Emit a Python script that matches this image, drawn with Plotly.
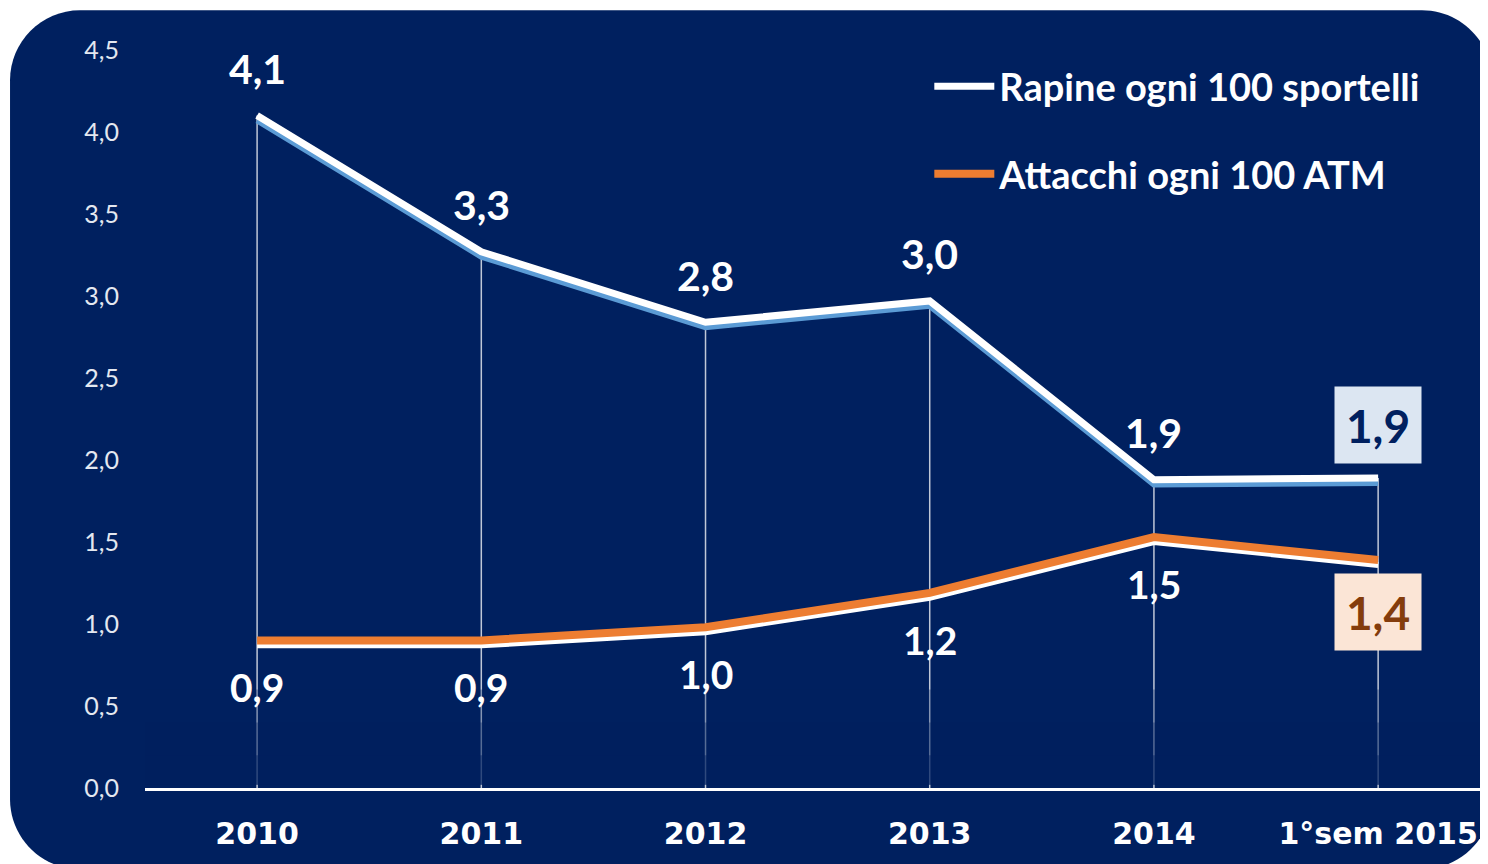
import plotly.graph_objects as go

categories = ["2010", "2011", "2012", "2013", "2014", "1°sem 2015"]
rapine = [4.10, 3.27, 2.84, 2.97, 1.88, 1.89]
attacchi = [0.90, 0.90, 0.98, 1.19, 1.53, 1.39]
y_ticks = [0, 0.5, 1.0, 1.5, 2.0, 2.5, 3.0, 3.5, 4.0, 4.5]

NAVY = "#00205f"
ORANGE = "#ed7d31"
SHADOW_BLUE = "#5b9bd5"


def label(v):
    return f"{v:.1f}".replace(".", ",")


fig = go.Figure()

# thin drop lines from each "rapine" point down to the axis
fig.add_trace(go.Scatter(
    x=categories, y=rapine, mode="markers",
    marker=dict(size=1, opacity=0),
    error_y=dict(type="data", symmetric=False, array=[0] * len(rapine),
                 arrayminus=rapine, color="rgba(255,255,255,0.75)",
                 thickness=1.5, width=0),
    showlegend=False, hoverinfo="skip",
))

# shadow lines (same data, drawn on a slightly shifted twin axis, under the main lines)
fig.add_trace(go.Scatter(
    x=categories, y=rapine, yaxis="y2", mode="lines",
    line=dict(color=SHADOW_BLUE, width=6),
    showlegend=False, hoverinfo="skip",
))
fig.add_trace(go.Scatter(
    x=categories, y=attacchi, yaxis="y2", mode="lines",
    line=dict(color="white", width=6),
    showlegend=False, hoverinfo="skip",
))

fig.add_trace(go.Scatter(
    x=categories, y=rapine, yaxis="y3", mode="lines", name="Rapine ogni 100 sportelli",
    line=dict(color="white", width=7), legendgroup="a",
))
fig.add_trace(go.Scatter(
    x=categories, y=attacchi, yaxis="y3", mode="lines", name="Attacchi ogni 100 ATM",
    line=dict(color=ORANGE, width=8), legendgroup="b",
))

last = len(categories) - 1
for i, v in enumerate(rapine):
    if i == last:
        fig.add_annotation(x=i, y=v, text=label(v), showarrow=False, yshift=53,
                           font=dict(family="Lato", size=46, color=NAVY, weight="bold"),
                           bgcolor="#dce6f2", width=84, height=74)
    else:
        fig.add_annotation(x=i, y=v, text=label(v), showarrow=False, yshift=47,
                           font=dict(family="Lato", size=41, color="white", weight="bold"))

for i, v in enumerate(attacchi):
    if i == last:
        fig.add_annotation(x=i, y=v, text=label(v), showarrow=False, yshift=-52,
                           font=dict(family="Lato", size=46, color="#843c0c", weight="bold"),
                           bgcolor="#fbe5d6", width=84, height=74)
    else:
        fig.add_annotation(x=i, y=v, text=label(v), showarrow=False, yshift=-47,
                           font=dict(family="Lato", size=39, color="white", weight="bold"))

# rounded navy card behind the chart (paper coords of a 1343x738 plot area)
k = 0.45
rx, ry = 70 / 1343, 70 / 738
x0, x1 = -0.1005, 1.003
y0, y1 = -0.11, 1.054
card = (f"M {x0 + rx},{y1} L {x1 - rx},{y1} "
        f"C {x1 - rx * k},{y1} {x1},{y1 - ry * k} {x1},{y1 - ry} "
        f"L {x1},{y0 + ry} "
        f"C {x1},{y0 + ry * k} {x1 - rx * k},{y0} {x1 - rx},{y0} "
        f"L {x0 + rx},{y0} "
        f"C {x0 + rx * k},{y0} {x0},{y0 + ry * k} {x0},{y0 + ry} "
        f"L {x0},{y1 - ry} "
        f"C {x0},{y1 - ry * k} {x0 + rx * k},{y1} {x0 + rx},{y1} Z")
fig.add_shape(type="path", path=card, xref="paper", yref="paper",
              fillcolor=NAVY, line=dict(width=0), layer="below")

# fade the drop lines towards the axis
for top, op in [(0.6, 0.3), (0.4, 0.35), (0.2, 0.45)]:
    fig.add_shape(type="rect", xref="paper", yref="y", x0=0, x1=1, y0=0.02, y1=top,
                  fillcolor=NAVY, opacity=op, line=dict(width=0), layer="above")

fig.update_layout(
    width=1480, height=856,
    margin=dict(l=137, r=0, t=42, b=76),
    paper_bgcolor="white", plot_bgcolor=NAVY,
    separators=",.",
    font=dict(family="Lato", color="white"),
    xaxis=dict(type="category", range=[-0.5, 5.49], showline=True, linecolor="white",
               linewidth=2.5, showgrid=False, zeroline=False, ticks="",
               ticklabelstandoff=17,
               tickfont=dict(family="DejaVu Sans", size=30, color="white", weight="bold")),
    yaxis=dict(range=[0, 4.5], tickvals=y_ticks, tickformat=".1f", showgrid=False,
               zeroline=False, showline=False, ticks="", ticklabelstandoff=25,
               tickfont=dict(family="Lato", size=25, color="#e4e8f0")),
    yaxis2=dict(range=[0.03, 4.53], overlaying="y", visible=False),
    yaxis3=dict(range=[0, 4.5], overlaying="y", visible=False),
    legend=dict(x=0.584, y=0.993, xanchor="left", yanchor="top",
                bgcolor="rgba(0,0,0,0)", traceorder="grouped", tracegroupgap=35,
                itemwidth=60,
                font=dict(family="Lato", size=38, color="white", weight="bold")),
    showlegend=True,
)

fig.write_html("out.html")
